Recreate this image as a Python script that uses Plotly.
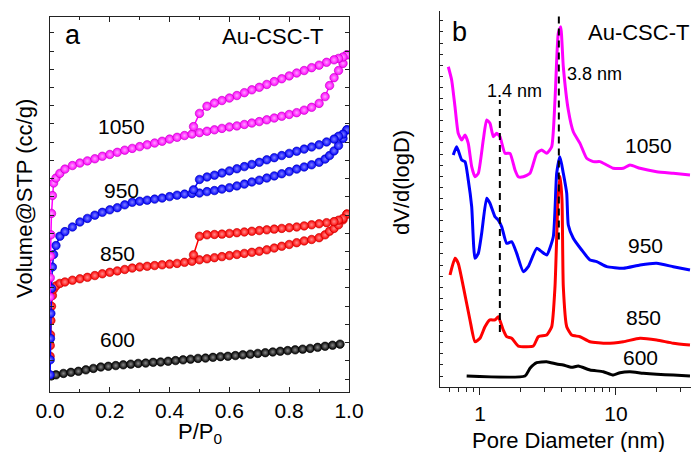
import plotly.graph_objects as go

# ---------------- Panel a: N2 isotherms (P/P0 vs volume, arbitrary units) ----------------
P_ADS = [0.0003, 0.0008, 0.0015, 0.003, 0.005, 0.008, 0.012, 0.02, 0.033, 0.05,
         0.075, 0.1, 0.125, 0.15, 0.175, 0.2, 0.225, 0.25, 0.275, 0.3,
         0.325, 0.35, 0.375, 0.4, 0.425, 0.45, 0.475, 0.5, 0.525, 0.55,
         0.575, 0.6, 0.625, 0.65, 0.675, 0.7, 0.725, 0.75, 0.775, 0.8,
         0.825, 0.85, 0.875, 0.9, 0.92, 0.935, 0.95, 0.965, 0.98, 0.993]
P_DES = [0.993, 0.98, 0.965, 0.95, 0.925, 0.9, 0.875, 0.85, 0.825, 0.8, 0.775, 0.75,
         0.725, 0.7, 0.675, 0.65, 0.625, 0.6, 0.575, 0.55, 0.525, 0.5, 0.48]

V_ADS_1050 = [266, 320, 380, 440, 500, 550, 585, 599, 612, 624, 634, 641, 647, 653, 660, 665,
              671, 677, 682, 687, 692, 697, 702, 708, 713, 718, 722, 726, 730, 734, 738, 742,
              745, 749, 753, 757, 762, 767, 772, 777, 782, 789, 797, 808, 827, 858, 880, 900,
              920, 944]
V_DES_1050 = [944, 938, 934, 930, 923, 915, 908, 900, 893, 885, 877, 869, 861, 853, 846, 838,
              830, 823, 816, 809, 800, 780, 743]

V_ADS_950 = [48, 90, 150, 220, 290, 350, 385, 410, 436, 449, 462, 476, 486, 495, 503, 510,
             516, 524, 531, 534, 537, 540, 543, 547, 551, 554, 556, 557, 561, 564, 568, 572,
             577, 582, 588, 593, 599, 605, 611, 617, 624, 630, 636, 643, 652, 662, 675, 690,
             710, 734]
V_DES_950 = [734, 722, 716, 708, 700, 692, 686, 680, 674, 668, 662, 656, 650, 643, 637, 631,
             625, 619, 613, 607, 602, 595, 566]

V_ADS_850 = [100, 130, 160, 200, 240, 270, 288, 297, 304, 308, 313, 317, 321, 326, 331, 335,
             339, 343, 347, 350, 352, 354, 356, 358, 360, 363, 366, 370, 373, 376, 379, 382,
             385, 388, 391, 394, 398, 403, 408, 413, 418, 423, 427, 432, 440, 450, 458, 468,
             482, 498]
V_DES_850 = [498, 486, 481, 477, 474, 471, 468, 465, 462, 460, 458, 456, 454, 452, 450, 448,
             446, 444, 442, 441, 440, 436, 384]

P_600 = [0.004, 0.02, 0.045, 0.07, 0.095, 0.12, 0.145, 0.17, 0.195, 0.22, 0.245, 0.27,
         0.295, 0.32, 0.345, 0.37, 0.395, 0.42, 0.445, 0.47, 0.495, 0.52, 0.545, 0.57,
         0.595, 0.62, 0.645, 0.67, 0.695, 0.72, 0.745, 0.77, 0.795, 0.82, 0.845, 0.87,
         0.895, 0.92, 0.945, 0.97]
V_600 = [45, 48, 52, 55, 58, 62, 66, 70, 72, 74, 76, 78, 80, 81, 83, 84, 86, 88, 90, 92,
         94, 95, 97, 99, 100, 102, 104, 106, 108, 110, 112, 114, 116, 118, 120, 122, 125,
         128, 131, 134]

P_TICKS = [0.0, 0.2, 0.4, 0.6, 0.8, 1.0]
P_TICKTEXT = ["0.0", "0.2", "0.4", "0.6", "0.8", "1.0"]
P_MINOR = [0.1, 0.3, 0.5, 0.7, 0.9]

# ---------------- Panel b: pore size distribution ----------------
D_1050 = [0.585, 0.619, 0.655, 0.692, 0.734, 0.776, 0.820, 0.869, 0.919, 0.972, 1.057, 1.120,
          1.184, 1.253, 1.327, 1.403, 1.527, 1.662, 1.809, 1.912, 2.082, 2.332, 2.612, 2.842,
          3.094, 3.367, 3.561, 3.765, 3.921, 4.099, 4.460, 4.853, 5.437, 6.089, 6.810, 7.627,
          8.544, 9.553, 11.31, 12.67, 15.02, 19.92, 26.38, 35.0]
V_1050 = [27.86, 26.67, 24.26, 21.86, 21.26, 21.71, 20.96, 18.86, 17.95, 18.26, 21.26, 23.06,
          22.77, 21.56, 21.86, 21.56, 20.06, 20.06, 18.56, 17.95, 17.95, 18.26, 20.06, 20.36,
          20.06, 20.66, 24.86, 30.87, 31.47, 27.86, 23.96, 22.01, 20.96, 19.61, 19.31, 19.31,
          19.01, 18.71, 18.71, 19.01, 18.71, 18.41, 18.26, 18.11]

D_950 = [0.636, 0.674, 0.734, 0.776, 0.820, 0.869, 0.919, 0.972, 1.029, 1.120, 1.184, 1.289,
         1.363, 1.444, 1.571, 1.710, 1.862, 2.082, 2.265, 2.612, 2.842, 3.094, 3.459, 3.664,
         3.874, 4.099, 4.342, 4.460, 4.853, 5.596, 6.44, 7.213, 8.544, 11.31, 15.02, 19.92,
         26.38, 35.0]
V_950 = [19.91, 20.66, 19.46, 19.31, 17.66, 15.25, 10.60, 11.05, 12.86, 16.01, 15.56, 14.35,
         14.05, 13.45, 11.95, 12.10, 11.05, 9.40, 9.85, 11.50, 11.20, 10.90, 12.55, 18.26,
         19.76, 18.26, 16.46, 13.60, 12.41, 11.35, 10.45, 10.30, 9.85, 9.70, 10.0, 10.15,
         9.85, 9.55]

D_850 = [0.602, 0.655, 0.692, 0.754, 0.844, 0.919, 1.0, 1.088, 1.184, 1.289, 1.363, 1.483,
         1.571, 1.710, 1.912, 2.466, 2.684, 3.094, 3.367, 3.561, 3.746, 3.874, 4.008, 4.099,
         4.342, 4.723, 5.437, 6.44, 8.544, 11.31, 15.02, 19.92, 26.38, 35.0]
V_850 = [9.10, 10.60, 10.15, 8.05, 5.05, 3.09, 3.40, 4.44, 5.05, 5.05, 5.34, 4.14, 3.54, 3.40,
         2.70, 2.70, 3.54, 3.69, 4.44, 8.05, 15.86, 18.0, 15.86, 8.05, 4.44, 3.69, 3.54, 3.09,
         2.95, 3.09, 3.40, 3.24, 2.95, 2.79]

D_600 = [0.798, 2.142, 2.332, 2.612, 3.094, 3.664, 4.099, 4.723, 5.282, 6.44, 8.066, 9.553,
         10.70, 12.67, 15.88, 19.92, 26.38, 35.0]
V_600B = [0, 0, 0.69, 1.20, 1.29, 1.08, 0.99, 0.78, 0.90, 0.54, 0.39, 0.09, 0.30, 0.39, 0.24,
          0.15, 0.09, 0.0]

GUIDE_D = [1.4, 3.8]
GUIDE_LOW = [3.96, 12.3]
GUIDE_HIGH = [24.86, 32.5]

D_TICKS = [1, 10]
D_TICKTEXT = ["1", "10"]
D_MINOR = [0.6, 0.7, 0.8, 0.9, 2, 3, 4, 5, 6, 7, 8, 9, 20, 30]

FONT = "Arial, 'Liberation Sans', sans-serif"
W, H = 691, 452
AX = "#222222"


def px(x):
    return x / W


def py(y):
    return 1 - y / H


fig = go.Figure()

iso = [
    ("600", P_600, V_600, "#000000", "#8a8a8a", "#000000"),
    ("850", P_ADS + P_DES, V_ADS_850 + V_DES_850, "#ff0000", "#ff8c8c", "#c00000"),
    ("950", P_ADS + P_DES, V_ADS_950 + V_DES_950, "#0000ff", "#8080ff", "#0000b0"),
    ("1050", P_ADS + P_DES, V_ADS_1050 + V_DES_1050, "#ff00ff", "#ffa0ff", "#c000c0"),
]
for name, xs, ys, col, light, dark in iso:
    fig.add_trace(go.Scatter(
        x=xs, y=ys, mode="lines+markers", name=name, showlegend=False,
        line=dict(color=col, width=1.5),
        marker=dict(size=8.5, color=col, line=dict(color=dark, width=0.6),
                    gradient=dict(type="radial", color=light)),
        xaxis="x", yaxis="y"))

psd = [
    ("1050", D_1050, V_1050, "#ff00ff"),
    ("950", D_950, V_950, "#0000ff"),
    ("850", D_850, V_850, "#ff0000"),
    ("600", D_600, V_600B, "#000000"),
]
for name, xs, ys, col in psd:
    fig.add_trace(go.Scatter(
        x=xs, y=ys, mode="lines", name=name, showlegend=False,
        line=dict(color=col, width=3, shape="spline", smoothing=0.5),
        xaxis="x2", yaxis="y2"))

for d, lo, hi in zip(GUIDE_D, GUIDE_LOW, GUIDE_HIGH):
    fig.add_trace(go.Scatter(
        x=[d, d], y=[lo, hi], mode="lines", showlegend=False,
        line=dict(color="#000000", width=2, dash="7px,5px"), xaxis="x2", yaxis="y2"))

tickfont = dict(family=FONT, size=21, color="#000000")

fig.update_layout(
    template="none",
    width=W, height=H, autosize=False,
    margin=dict(l=0, r=0, t=0, b=0, pad=0),
    paper_bgcolor="white", plot_bgcolor="white",
    font=dict(family=FONT, color="#000000"),
    xaxis=dict(domain=[px(50), px(349)], anchor="y", range=[0, 1.0], automargin=False,
               tickmode="array", tickvals=P_TICKS, ticktext=P_TICKTEXT,
               ticks="inside", ticklen=5, tickcolor=AX, tickfont=tickfont,
               minor=dict(tickmode="array", tickvals=P_MINOR, ticks="inside", ticklen=3,
                          tickcolor=AX, showgrid=False),
               showline=True, linecolor=AX, linewidth=1.2, mirror="ticks",
               showgrid=False, zeroline=False),
    yaxis=dict(domain=[py(392), py(17.3)], anchor="x", range=[0, 1049], automargin=False,
               tick0=36.4, dtick=51, ticks="inside", ticklen=4, tickcolor=AX,
               showticklabels=False, showline=True, linecolor=AX, linewidth=1.2,
               mirror="ticks", showgrid=False, zeroline=False),
    xaxis2=dict(domain=[px(440), 1.0], anchor="y2", type="log", range=[-0.294, 1.5515],
                automargin=False,
                tickmode="array", tickvals=D_TICKS, ticktext=D_TICKTEXT,
                ticks="outside", ticklen=7, tickcolor=AX, tickfont=tickfont,
                minor=dict(tickmode="array", tickvals=D_MINOR, ticks="outside", ticklen=4,
                           tickcolor=AX, showgrid=False),
                showline=True, linecolor=AX, linewidth=1.2, mirror=False,
                showgrid=False, zeroline=False),
    xaxis3=dict(overlaying="x2", anchor="y2", side="top", type="log", range=[-0.294, 1.5515],
                automargin=False,
                tickmode="array", tickvals=D_TICKS, ticks="inside", ticklen=4, tickcolor=AX,
                showticklabels=False,
                minor=dict(tickmode="array", tickvals=D_MINOR, ticks="inside", ticklen=3,
                           tickcolor=AX, showgrid=False),
                showline=True, linecolor=AX, linewidth=1.2, showgrid=False, zeroline=False),
    yaxis2=dict(domain=[py(387.3), py(10.7)], anchor="x2", range=[-1.018, 32.91],
                automargin=False,
                tick0=0, dtick=1, ticks="inside", ticklen=3, tickcolor=AX,
                showticklabels=False, showline=True, linecolor=AX, linewidth=1.2,
                mirror=False, showgrid=False, zeroline=False),
)


def label(text, x, y, size, angle=0):
    fig.add_annotation(text=text, x=px(x), y=py(y), xref="paper", yref="paper",
                       xanchor="center", yanchor="middle", showarrow=False, textangle=angle,
                       font=dict(family=FONT, size=size, color="#000000"))


label("a", 73, 35, 27)
label("Au-CSC-T", 272, 37, 22)
label("1050", 121, 126, 21)
label("950", 121, 191, 21)
label("850", 118, 253, 21)
label("600", 118, 339, 21)
label("Volume@STP (cc/g)", 25, 199, 22, -90)
label("P/P<sub>0</sub>", 200, 433, 22)

label("b", 459, 32, 27)
label("Au-CSC-T", 638, 33, 22)
label("1050", 648, 146, 21)
label("950", 645, 246, 21)
label("850", 643, 317, 21)
label("600", 640, 357, 21)
label("1.4 nm", 514, 91, 18)
label("3.8 nm", 594, 74, 18)
label("dV/d(logD)", 401, 183, 22, -90)
label("Pore Diameter (nm)", 568, 440, 22)

fig.write_html("out.html")
